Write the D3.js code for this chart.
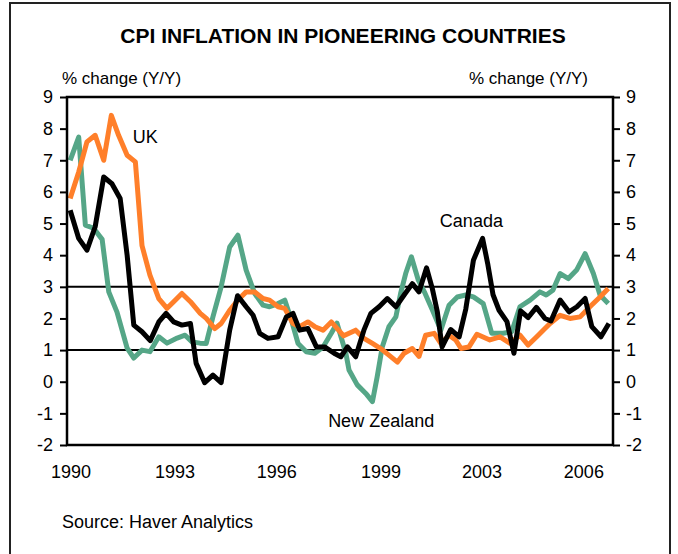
<!DOCTYPE html>
<html>
<head>
<meta charset="utf-8">
<script src="https://cdn.jsdelivr.net/npm/d3@7"></script>
<style>
  html, body { margin: 0; padding: 0; background: #fff; }
  svg { display: block; }
  text { font-family: "Liberation Sans", Arial, Helvetica, sans-serif; fill: #000; }
</style>
</head>
<body>
<svg id="chart" width="678" height="554"></svg>
<script>
// ---------- DATA ----------
const title = "CPI INFLATION IN PIONEERING COUNTRIES";
const yAxisLabel = "% change (Y/Y)";
const sourceText = "Source: Haver Analytics";

const yTicks = [-2, -1, 0, 1, 2, 3, 4, 5, 6, 7, 8, 9];
const refLines = [1, 3];

const xTickLabels = ["1990", "1993", "1996", "1999", "2003", "2006"];
const xTickPos = [1990.13, 1993.41, 1996.63, 1999.92, 2003.11, 2006.33];

// New Zealand
const nzDates = [1990.10, 1990.37, 1990.58, 1990.84, 1991.11, 1991.32, 1991.58, 1991.90, 1992.11, 1992.37,
  1992.62, 1992.90, 1993.16, 1993.48, 1993.73, 1993.95, 1994.20, 1994.40, 1994.61, 1994.87,
  1995.14, 1995.40, 1995.66, 1995.93, 1996.19, 1996.40, 1996.67, 1996.88, 1997.09, 1997.30,
  1997.56, 1997.83, 1998.09, 1998.35, 1998.53, 1998.81, 1998.91, 1999.17, 1999.44, 1999.65,
  1999.80, 1999.96, 2000.17, 2000.39, 2000.54, 2000.70, 2000.88, 2001.10, 2001.31, 2001.53,
  2001.81, 2002.07, 2002.33, 2002.60, 2002.84, 2003.15, 2003.42, 2003.78, 2004.05, 2004.31,
  2004.63, 2004.94, 2005.14, 2005.35, 2005.58, 2005.84, 2006.10, 2006.37, 2006.63, 2006.84, 2007.10];
const nzValues = [7.0, 7.73, 4.95, 4.85, 4.5, 2.84, 2.2, 1.06, 0.75, 1.0,
  0.95, 1.42, 1.22, 1.38, 1.47, 1.26, 1.22, 1.21, 2.05, 3.0,
  4.26, 4.63, 3.53, 2.79, 2.42, 2.37, 2.47, 2.58, 1.95, 1.21,
  0.95, 0.9, 1.1, 1.53, 1.85, 0.9, 0.37, -0.1, -0.37, -0.63,
  0.16, 1.1, 1.74, 2.05, 2.79, 3.42, 3.95, 3.21, 2.8, 2.3,
  1.63, 2.42, 2.68, 2.74, 2.68, 2.47, 1.53, 1.53, 1.58, 2.37,
  2.58, 2.84, 2.74, 2.89, 3.42, 3.26, 3.53, 4.05, 3.42, 2.74, 2.47];

// United Kingdom
const ukDates = [1990.10, 1990.37, 1990.63, 1990.89, 1991.16, 1991.40, 1991.63, 1991.90, 1992.16, 1992.37,
  1992.62, 1992.90, 1993.16, 1993.37, 1993.63, 1993.90, 1994.21, 1994.40, 1994.67, 1994.87,
  1995.14, 1995.40, 1995.66, 1995.93, 1996.19, 1996.40, 1996.67, 1996.88, 1997.14, 1997.35,
  1997.61, 1997.83, 1998.09, 1998.35, 1998.74, 1999.12, 1999.38, 1999.65, 1999.91, 2000.17,
  2000.44, 2000.65, 2000.91, 2001.12, 2001.33, 2001.60, 2001.81, 2002.07, 2002.28, 2002.45,
  2002.70, 2002.95, 2003.36, 2003.68, 2004.00, 2004.31, 2004.57, 2004.84, 2005.26, 2005.58,
  2005.89, 2006.21, 2006.52, 2006.84, 2007.10];
const ukValues = [5.79, 6.63, 7.58, 7.79, 7.0, 8.42, 7.79, 7.16, 6.95, 4.3,
  3.37, 2.63, 2.32, 2.53, 2.79, 2.53, 2.16, 2.0, 1.68, 1.84,
  2.26, 2.58, 2.84, 2.84, 2.63, 2.58, 2.37, 2.32, 1.84, 1.74,
  1.89, 1.74, 1.63, 1.89, 1.45, 1.63, 1.37, 1.21, 1.05, 0.84,
  0.62, 0.9, 1.05, 0.8, 1.47, 1.53, 1.21, 1.47, 1.32, 1.05,
  1.1, 1.5, 1.32, 1.42, 1.21, 1.47, 1.16, 1.42, 1.84, 2.1,
  2.0, 2.05, 2.37, 2.68, 2.95];

// Canada
const caDates = [1990.10, 1990.37, 1990.63, 1990.89, 1991.16, 1991.42, 1991.68, 1991.90, 1992.11, 1992.37,
  1992.63, 1992.90, 1993.13, 1993.37, 1993.63, 1993.90, 1994.08, 1994.35, 1994.61, 1994.87,
  1995.14, 1995.39, 1995.66, 1995.88, 1996.09, 1996.35, 1996.67, 1996.93, 1997.14, 1997.35,
  1997.61, 1997.88, 1998.14, 1998.44, 1998.65, 1998.86, 1999.12, 1999.38, 1999.60, 1999.86,
  2000.12, 2000.39, 2000.65, 2000.91, 2001.12, 2001.36, 2001.54, 2001.70, 2001.85, 2002.12,
  2002.39, 2002.60, 2002.84, 2003.13, 2003.29, 2003.46, 2003.65, 2003.90, 2004.12, 2004.33,
  2004.57, 2004.83, 2005.10, 2005.29, 2005.58, 2005.86, 2006.11, 2006.37, 2006.58, 2006.87, 2007.12];
const caValues = [5.42, 4.53, 4.16, 4.9, 6.47, 6.26, 5.79, 4.0, 1.79, 1.58,
  1.3, 1.89, 2.16, 1.89, 1.79, 1.84, 0.58, -0.03, 0.21, -0.03,
  1.63, 2.72, 2.37, 2.1, 1.53, 1.37, 1.42, 2.05, 2.16, 1.63,
  1.68, 1.1, 1.1, 0.9, 0.79, 1.1, 0.79, 1.63, 2.16, 2.37,
  2.63, 2.37, 2.74, 3.1, 2.84, 3.6, 2.95, 2.21, 1.1, 1.65,
  1.42, 2.3, 3.84, 4.53, 3.74, 2.75, 2.26, 1.9, 0.9, 2.24,
  2.03, 2.35, 2.0, 1.92, 2.58, 2.21, 2.37, 2.63, 1.74, 1.42, 1.84];

const seriesNames = ["New Zealand", "UK", "Canada"];
const seriesColors = ["#55a687", "#ff7f2a", "#000000"];
const labelYears = [1998.25, 1992.08, 2001.78];
const labelValues = [-1.43, 7.54, 4.89];

// ---------- CHART ----------
const svg = d3.select("#chart");
const plot = { left: 67, right: 613, top: 97, bottom: 445 };

const x = d3.scaleLinear().domain([1990, 2007.25]).range([plot.left, plot.right]);
const y = d3.scaleLinear().domain([-2, 9]).range([plot.bottom, plot.top]);

// outer frame
svg.append("rect")
  .attr("x", 10).attr("y", 3).attr("width", 660).attr("height", 570)
  .attr("fill", "none").attr("stroke", "#222").attr("stroke-width", 2);

// title
svg.append("text")
  .attr("x", 343).attr("y", 43)
  .attr("text-anchor", "middle")
  .style("font-size", "21px").style("font-weight", "bold")
  .text(title);

// axis unit labels
svg.append("text").attr("x", 62).attr("y", 84)
  .style("font-size", "17px").text(yAxisLabel);
svg.append("text").attr("x", 588).attr("y", 84).attr("text-anchor", "end")
  .style("font-size", "17px").text(yAxisLabel);

// y axes
const fmt = d => String(d);
const yLeft = svg.append("g").attr("transform", `translate(${plot.left},0)`)
  .call(d3.axisLeft(y).tickValues(yTicks).tickFormat(fmt).tickSize(7).tickPadding(7).tickSizeOuter(0));
const yRight = svg.append("g").attr("transform", `translate(${plot.right},0)`)
  .call(d3.axisRight(y).tickValues(yTicks).tickFormat(fmt).tickSize(7).tickPadding(6).tickSizeOuter(0));
[yLeft, yRight].forEach(g => {
  g.select(".domain").remove();
  g.selectAll(".tick line").attr("stroke", "#000").attr("stroke-width", 2);
  g.selectAll(".tick text").style("font-size", "18px")
    .style("font-family", '"Liberation Sans", Arial, sans-serif').attr("fill", "#000");
});

// reference lines
svg.append("g").selectAll("line").data(refLines).join("line")
  .attr("x1", plot.left).attr("x2", plot.right)
  .attr("y1", d => y(d)).attr("y2", d => y(d))
  .attr("stroke", "#000").attr("stroke-width", 2);

// series
const seriesData = [
  nzDates.map((d, i) => [d, nzValues[i]]),
  ukDates.map((d, i) => [d, ukValues[i]]),
  caDates.map((d, i) => [d, caValues[i]])
];
const line = d3.line().x(d => x(d[0])).y(d => y(d[1]));
svg.append("g").selectAll("path").data(seriesData).join("path")
  .attr("d", line)
  .attr("fill", "none")
  .attr("stroke", (d, i) => seriesColors[i])
  .attr("stroke-width", 5)
  .attr("stroke-linejoin", "round")
  .attr("stroke-linecap", "butt");

// plot frame
svg.append("rect")
  .attr("x", plot.left).attr("y", plot.top)
  .attr("width", plot.right - plot.left).attr("height", plot.bottom - plot.top)
  .attr("fill", "none").attr("stroke", "#000").attr("stroke-width", 2.5);

// series labels
svg.append("g").selectAll("text").data(seriesNames).join("text")
  .attr("x", (d, i) => x(labelYears[i]))
  .attr("y", (d, i) => y(labelValues[i]))
  .style("font-size", "18px")
  .text(d => d);

// x labels
svg.append("g").selectAll("text").data(xTickLabels).join("text")
  .attr("x", (d, i) => x(xTickPos[i]))
  .attr("y", 478)
  .attr("text-anchor", "middle")
  .style("font-size", "18px")
  .text(d => d);

// source
svg.append("text").attr("x", 62).attr("y", 528)
  .style("font-size", "18px").text(sourceText);
</script>
</body>
</html>
